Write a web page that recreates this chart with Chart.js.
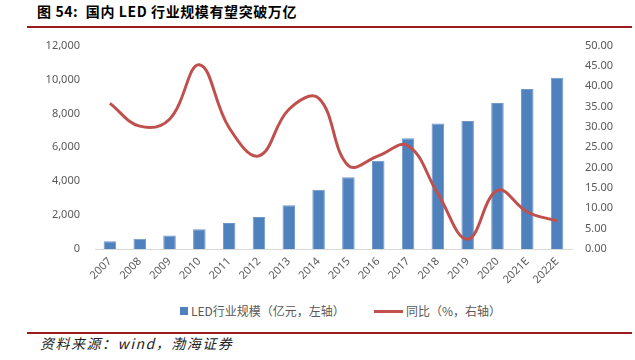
<!DOCTYPE html>
<html>
<head>
<meta charset="utf-8">
<script src="https://cdn.jsdelivr.net/npm/chart.js@4"></script>
<style>
  body { margin: 0; width: 635px; height: 360px; background: #fff; position: relative; overflow: hidden;
         font-family: "Noto Sans CJK SC", "Noto Sans", sans-serif; }
  .title { position: absolute; left: 37px; top: 1px; font-size: 14px; font-weight: bold; color: #000; letter-spacing: 0.6px; white-space: pre; }
  .rule { position: absolute; left: 27px; width: 605px; height: 2px; background: #9b1c1c; }
  .chart-box { position: absolute; left: 0; top: 24px; width: 635px; height: 274px; }
  .legend { position: absolute; top: 302px; left: 0; width: 635px; font-size: 12px; color: #595959; }
  .legend span { position: absolute; white-space: nowrap; }
  .source { position: absolute; left: 40px; top: 333px; font-size: 14px; font-style: italic; color: #222; letter-spacing: 1.5px; white-space: pre; }
</style>
</head>
<body>
<div class="title">图 54:  国内 LED 行业规模有望突破万亿</div>
<div class="rule" style="top:26px"></div>
<div class="chart-box"><canvas id="mainChart"></canvas></div>
<div class="legend" id="legend"></div>
<div class="rule" style="top:332px"></div>
<div class="source">资料来源：wind，渤海证券</div>

<script>
// Data
var years = ["2007", "2008", "2009", "2010", "2011", "2012", "2013", "2014",
             "2015", "2016", "2017", "2018", "2019", "2020", "2021E", "2022E"];
var scale = [450, 600, 800, 1170, 1540, 1890, 2575, 3490,
             4240, 5210, 6540, 7400, 7550, 8620, 9440, 10110];
var growth = [35.8, 30.2, 31.9, 45.3, 29.8, 22.9, 34.3, 37.1,
              20.5, 22.9, 25.4, 13.6, 2.4, 14.4, 9.1, 6.9];
var leftTicks = [0, 2000, 4000, 6000, 8000, 10000, 12000];
var rightTicks = [0, 5, 10, 15, 20, 25, 30, 35, 40, 45, 50];

var barLabel = "LED行业规模（亿元，左轴）";
var lineLabel = "同比（%，右轴）";
var tickFont = { family: "'Noto Sans', sans-serif", size: 11 };

var ctx = document.getElementById("mainChart").getContext("2d");
var myChart = new Chart(ctx, {
  data: {
    labels: years,
    datasets: [
      {
        type: "line",
        label: lineLabel,
        data: growth,
        yAxisID: "y1",
        borderColor: "#c0504d",
        borderWidth: 3,
        tension: 0.4,
        pointRadius: 0,
        fill: false,
        order: 0,
      },
      {
        type: "bar",
        label: barLabel,
        data: scale,
        yAxisID: "y",
        backgroundColor: "#4f81bd",
        borderColor: "#6f97c9",
        borderWidth: 1,
        categoryPercentage: 1,
        barPercentage: 0.42,
        order: 1,
      },
    ],
  },
  options: {
    responsive: true,
    maintainAspectRatio: false,
    animation: false,
    layout: { padding: { top: 0, left: 0, right: 0, bottom: 0 } },
    plugins: { legend: { display: false }, tooltip: { enabled: false } },
    scales: {
      x: {
        offset: true,
        grid: { display: false, drawTicks: false },
        border: { color: "#d9d9d9" },
        ticks: { color: "#595959", font: tickFont, maxRotation: 45, minRotation: 45, padding: 6 },
        afterFit: function (s) { s.height = 49; },
      },
      y: {
        position: "left",
        min: 0,
        max: 12000,
        grid: { display: false, drawTicks: false },
        border: { display: false },
        afterBuildTicks: function (s) { s.ticks = leftTicks.map(function (v) { return { value: v }; }); },
        ticks: {
          color: "#595959",
          font: tickFont,
          padding: 15,
          callback: function (v) { return v.toLocaleString("en-US"); },
        },
        afterFit: function (s) { s.width = 95; },
      },
      y1: {
        position: "right",
        min: 0,
        max: 50,
        grid: { display: false, drawTicks: false },
        border: { display: false },
        afterBuildTicks: function (s) { s.ticks = rightTicks.map(function (v) { return { value: v }; }); },
        ticks: {
          color: "#595959",
          font: tickFont,
          padding: 13,
          callback: function (v) { return v.toFixed(2); },
        },
        afterFit: function (s) { s.width = 63; },
      },
    },
  },
});

// Legend
var legend = document.getElementById("legend");
legend.innerHTML =
  '<span style="left:180px;top:5px;width:8px;height:8px;background:#4f81bd"></span>' +
  '<span style="left:191px;top:0">' + barLabel + '</span>' +
  '<span style="left:374px;top:8px;width:29px;height:3px;background:#c0504d"></span>' +
  '<span style="left:406px;top:0">' + lineLabel + '</span>';
</script>
</body>
</html>
